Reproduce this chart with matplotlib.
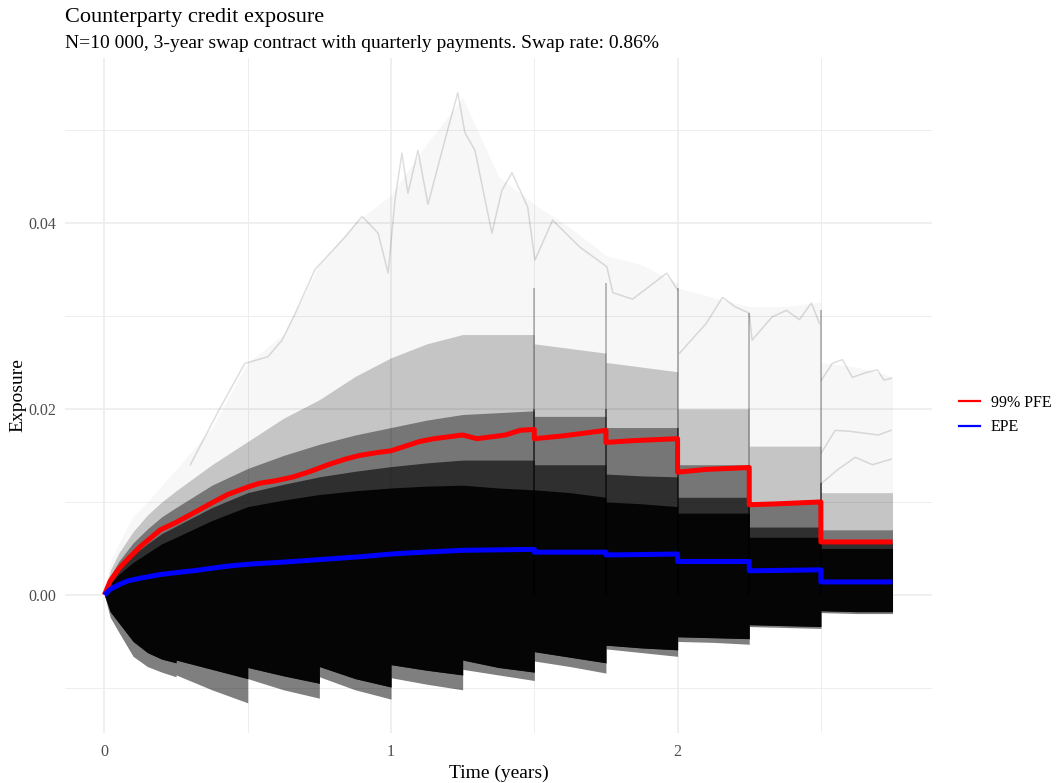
import matplotlib
matplotlib.use("Agg")
import matplotlib.pyplot as plt
from matplotlib.lines import Line2D

plt.rcParams['font.family'] = ['Liberation Serif', 'DejaVu Serif']

# time knots of the simulated cloud (payment dates appear twice: before / after)
t_env = [0, 0.02, 0.05, 0.1, 0.15, 0.2, 0.25, 0.25, 0.375, 0.5, 0.5, 0.625,
         0.75, 0.75, 0.875, 1.0, 1.0, 1.125, 1.25, 1.25, 1.375, 1.5, 1.5,
         1.625, 1.75, 1.75, 1.875, 2.0, 2.0, 2.125, 2.25, 2.25, 2.375, 2.5,
         2.5, 2.625, 2.75]

# lowest simulated exposure
lower_max = [0, -0.0024, -0.0040, -0.0066, -0.0077, -0.0083, -0.0088, -0.0086,
             -0.0102, -0.0116, -0.0090, -0.0102, -0.0111, -0.0088, -0.0102,
             -0.0112, -0.0089, -0.0096, -0.0102, -0.0080, -0.0086, -0.0092,
             -0.0071, -0.0077, -0.0084, -0.0058, -0.0062, -0.0066, -0.0050,
             -0.0051, -0.0053, -0.0034, -0.0035, -0.0036, -0.0019, -0.0020,
             -0.0020]
# lower edge of the dense bulk of paths
lower_solid = [0, -0.0018, -0.0030, -0.0050, -0.0062, -0.0069, -0.0073, -0.0070,
               -0.0080, -0.0090, -0.0078, -0.0087, -0.0095, -0.0077, -0.0090,
               -0.0099, -0.0075, -0.0081, -0.0086, -0.0070, -0.0078, -0.0083,
               -0.0061, -0.0067, -0.0073, -0.0054, -0.0057, -0.0059, -0.0045,
               -0.0046, -0.0047, -0.0032, -0.0033, -0.0034, -0.0017, -0.0018,
               -0.0018]
# upper edge of the fully black bulk
upper_solid = [0, 0.0012, 0.0022, 0.0035, 0.0045, 0.0055, 0.0062, 0.0062,
               0.0080, 0.0095, 0.0095, 0.0102, 0.0108, 0.0108, 0.0112, 0.0115,
               0.0115, 0.0117, 0.0118, 0.0118, 0.0115, 0.0113, 0.0113, 0.0110,
               0.0105, 0.0100, 0.0098, 0.0095, 0.0088, 0.0088, 0.0088, 0.0062,
               0.0062, 0.0062, 0.0050, 0.0050, 0.0050]
upper_dense = [0, 0.0015, 0.0027, 0.0043, 0.0055, 0.0066, 0.0074, 0.0074,
               0.0094, 0.0110, 0.0110, 0.0119, 0.0127, 0.0127, 0.0133, 0.0138,
               0.0138, 0.0142, 0.0145, 0.0145, 0.0145, 0.0145, 0.0140, 0.0140,
               0.0140, 0.0130, 0.0128, 0.0127, 0.0105, 0.0105, 0.0105, 0.0073,
               0.0073, 0.0073, 0.0056, 0.0056, 0.0056]
upper_dark = [0, 0.0020, 0.0036, 0.0056, 0.0071, 0.0084, 0.0094, 0.0094,
              0.0118, 0.0136, 0.0136, 0.0150, 0.0162, 0.0162, 0.0172, 0.0180,
              0.0180, 0.0188, 0.0194, 0.0194, 0.0196, 0.0198, 0.0192, 0.0192,
              0.0192, 0.0180, 0.0180, 0.0180, 0.0140, 0.0140, 0.0140, 0.0100,
              0.0100, 0.0100, 0.0070, 0.0070, 0.0070]
upper_mid = [0, 0.0026, 0.0045, 0.0068, 0.0086, 0.0100, 0.0112, 0.0112,
             0.0140, 0.0165, 0.0165, 0.0190, 0.0210, 0.0210, 0.0235, 0.0255,
             0.0255, 0.0270, 0.0280, 0.0280, 0.0280, 0.0280, 0.0270, 0.0265,
             0.0260, 0.0250, 0.0245, 0.0240, 0.0200, 0.0200, 0.0200, 0.0160,
             0.0160, 0.0160, 0.0110, 0.0110, 0.0110]
# highest simulated exposure
upper_max = [0, 0.0035, 0.0055, 0.0085, 0.0100, 0.0118, 0.0135, 0.0135,
             0.0180, 0.0250, 0.0250, 0.0280, 0.0355, 0.0355, 0.0400, 0.0430,
             0.0430, 0.0485, 0.0535, 0.0535, 0.0450, 0.0420, 0.0420, 0.0395,
             0.0365, 0.0365, 0.0355, 0.0335, 0.0330, 0.0320, 0.0310, 0.0310,
             0.0310, 0.0315, 0.0250, 0.0245, 0.0235]

# a few outlying paths
path_a_t = [0.3, 0.40, 0.49, 0.57, 0.62, 0.666, 0.735, 0.84, 0.899, 0.955,
            0.99, 1.014, 1.038, 1.059, 1.094, 1.129, 1.188, 1.233, 1.258,
            1.293, 1.352, 1.387, 1.422, 1.477, 1.502, 1.564, 1.659, 1.753,
            1.774, 1.843, 1.962, 2.0]
path_a_v = [0.0140, 0.0199, 0.0249, 0.0256, 0.0274, 0.0303, 0.0350, 0.0385,
            0.0407, 0.0389, 0.0346, 0.0425, 0.0475, 0.0432, 0.0478, 0.0420,
            0.0489, 0.0540, 0.0497, 0.0478, 0.0389, 0.0435, 0.0454, 0.0417,
            0.0360, 0.0403, 0.0374, 0.0353, 0.0325, 0.0318, 0.0346, 0.0328]
path_b_t = [2.007, 2.1, 2.157, 2.2, 2.25, 2.26, 2.33, 2.38, 2.425, 2.467, 2.495]
path_b_v = [0.0260, 0.0292, 0.0320, 0.0310, 0.0303, 0.0274, 0.0299, 0.0306,
            0.0296, 0.0314, 0.0292]
path_c_t = [2.502, 2.54, 2.575, 2.61, 2.657, 2.697, 2.72, 2.745]
path_c_v = [0.0231, 0.0249, 0.0253, 0.0234, 0.0239, 0.0242, 0.0231, 0.0233]
path_d_t = [2.502, 2.55, 2.6, 2.65, 2.7, 2.745]
path_d_v = [0.0153, 0.0177, 0.0176, 0.0174, 0.0172, 0.0177]
path_e_t = [2.502, 2.56, 2.62, 2.68, 2.745]
path_e_v = [0.0120, 0.0135, 0.0148, 0.0140, 0.0146]

# payment dates where the paths jump
pay_dates = [1.5, 1.75, 2.0, 2.25, 2.5]
jump_top = [0.033, 0.0335, 0.033, 0.0303, 0.0306]
jump_dark = [0.020, 0.020, 0.018, 0.014, 0.012]

# 99% potential future exposure
pfe_t = [0, 0.02, 0.05, 0.08, 0.125, 0.195, 0.25, 0.31, 0.375, 0.43, 0.5,
         0.54, 0.6, 0.66, 0.72, 0.78, 0.84, 0.89, 0.95, 1.0, 1.05, 1.1, 1.15,
         1.2, 1.25, 1.3, 1.35, 1.4, 1.45, 1.5, 1.5, 1.6, 1.7, 1.75, 1.75,
         1.85, 2.0, 2.0, 2.1, 2.25, 2.25, 2.35, 2.5, 2.5, 2.6, 2.75]
pfe_v = [0, 0.0015, 0.0028, 0.0038, 0.0052, 0.0070, 0.0078, 0.0088, 0.0099,
         0.0108, 0.0116, 0.0120, 0.0123, 0.0127, 0.0133, 0.0140, 0.0146,
         0.0150, 0.0153, 0.0155, 0.0160, 0.0165, 0.0168, 0.0170, 0.0172,
         0.0168, 0.0170, 0.0172, 0.0177, 0.0178, 0.0168, 0.0171, 0.0175,
         0.0177, 0.0164, 0.0166, 0.0168, 0.0132, 0.0135, 0.0137, 0.0097,
         0.0098, 0.0100, 0.0057, 0.0057, 0.0057]

# expected positive exposure
epe_t = [0, 0.02, 0.05, 0.08, 0.125, 0.195, 0.25, 0.31, 0.43, 0.5, 0.66, 0.75,
         0.89, 1.0, 1.05, 1.25, 1.5, 1.5, 1.75, 1.75, 2.0, 2.0, 2.25, 2.25,
         2.5, 2.5, 2.75]
epe_v = [0, 0.0006, 0.0011, 0.0015, 0.0018, 0.0022, 0.0024, 0.0026, 0.0031,
         0.0033, 0.0036, 0.0038, 0.0041, 0.0044, 0.0045, 0.0048, 0.0049,
         0.0046, 0.0046, 0.0043, 0.0044, 0.0036, 0.0036, 0.0026, 0.0027,
         0.0014, 0.0014]

fig = plt.figure(figsize=(10.59, 7.83), dpi=100)
ax = fig.add_axes([0.0614, 0.0639, 0.8186, 0.8621])

# simulated paths cloud, darker towards the bulk
ax.fill_between(t_env, lower_solid, upper_max, color='black', alpha=0.03, lw=0, zorder=2)
ax.fill_between(t_env, lower_solid, upper_mid, color='black', alpha=0.2, lw=0, zorder=2)
ax.fill_between(t_env, lower_solid, upper_dark, color='black', alpha=0.4, lw=0, zorder=2)
ax.fill_between(t_env, lower_solid, upper_dense, color='black', alpha=0.6, lw=0, zorder=2)
ax.fill_between(t_env, lower_max, lower_solid, color='black', alpha=0.5, lw=0, zorder=2)
ax.fill_between(t_env, lower_solid, upper_solid, color='#050505', lw=0, zorder=3)

for pt, pv in [(path_a_t, path_a_v), (path_b_t, path_b_v), (path_c_t, path_c_v),
               (path_d_t, path_d_v), (path_e_t, path_e_v)]:
    ax.plot(pt, pv, color='black', alpha=0.13, lw=1.1, zorder=3)

ax.vlines(pay_dates, 0, jump_top, color='black', alpha=0.3, lw=1.2, zorder=3)
ax.vlines(pay_dates, 0, jump_dark, color='black', alpha=0.5, lw=1.2, zorder=3)

ax.plot(pfe_t, pfe_v, color='#ff0000', lw=3.6, zorder=5, solid_capstyle='butt')
ax.plot(epe_t, epe_v, color='#0000ff', lw=3.6, zorder=5, solid_capstyle='butt')

ax.set_xlim(-0.1375, 2.8875)
ax.set_ylim(-0.01484, 0.05774)
ax.set_xticks([0, 1, 2])
ax.set_xticklabels(['0', '1', '2'])
ax.set_xticks([0.5, 1.5, 2.5], minor=True)
ax.set_yticks([0.0, 0.02, 0.04])
ax.set_yticklabels(['0.00', '0.02', '0.04'])
ax.set_yticks([-0.01, 0.01, 0.03, 0.05], minor=True)
ax.grid(True, which='major', color='#ebebeb', lw=1.1, zorder=0)
ax.grid(True, which='minor', color='#ebebeb', lw=0.6, zorder=0)
ax.set_axisbelow(True)
ax.tick_params(which='both', length=0, labelsize=11.5, labelcolor='#4d4d4d')
ax.tick_params(axis='x', pad=8)
ax.tick_params(axis='y', pad=6)
for s in ax.spines.values():
    s.set_visible(False)

ax.set_xlabel('Time (years)', fontsize=14, labelpad=3)
ax.set_ylabel('Exposure', fontsize=14, labelpad=2)

fig.text(0.0614, 0.972, 'Counterparty credit exposure', fontsize=16, va='baseline')
fig.text(0.0614, 0.939,
         'N=10 000, 3-year swap contract with quarterly payments. Swap rate: 0.86%',
         fontsize=14, va='baseline')

handles = [Line2D([], [], color='#ff0000', lw=1.6), Line2D([], [], color='#0000ff', lw=1.6)]
fig.legend(handles, ['99% PFE', 'EPE'], loc='center left', bbox_to_anchor=(0.892, 0.47),
           frameon=False, fontsize=11.5, handlelength=1.3, handletextpad=0.7,
           labelspacing=0.55)

fig.savefig('out.png', dpi=100)
